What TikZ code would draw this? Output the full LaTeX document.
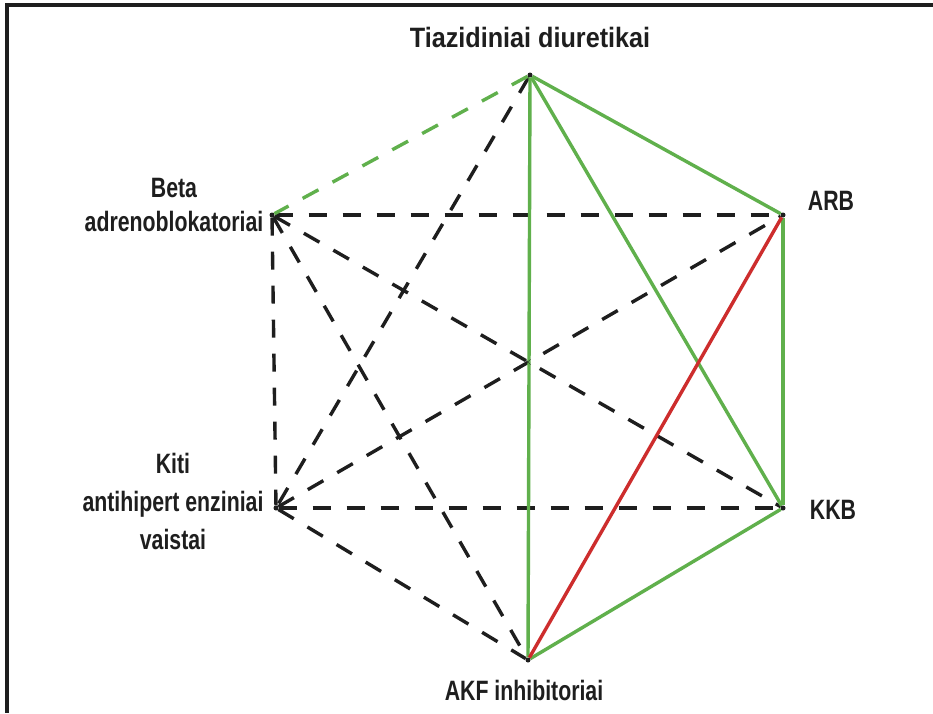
\documentclass[tikz,border=0pt]{standalone}
\usepackage{fontspec}
\setmainfont{Liberation Sans}[FakeStretch=0.76]
\newfontfamily\widefont{Liberation Sans}[FakeStretch=0.9]
\definecolor{lgreen}{RGB}{96,176,76}
\definecolor{lred}{RGB}{205,45,45}
\definecolor{ink}{RGB}{30,30,30}
\tikzset{
  vert/.style={circle,fill=ink,inner sep=0pt,minimum size=5pt},
  lab/.style={font=\fontsize{28}{31}\selectfont\bfseries,text=ink,align=center},
  pair/.style={ink,line width=3.4pt,dash pattern=on 18pt off 16pt},
  good/.style={lgreen,line width=3.4pt},
  bad/.style={lred,line width=3.4pt}
}

\begin{document}
\begin{tikzpicture}[x=1pt,y=-1pt]
\useasboundingbox (0,0) rectangle (933,713);
\fill[white] (0,0) rectangle (933,713);
\draw[ink,line width=3.5pt] (933,5) -- (7,5) -- (7,713);

% vertices
\node[vert] (tia) at (530,75) {};
\node[vert] (beta) at (272,215) {};
\node[vert] (arb) at (783,215) {};
\node[vert] (kiti) at (276,508) {};
\node[vert] (kkb) at (783,508) {};
\node[vert] (akf) at (528,660) {};

% labels
\node[lab] (ltia) at (530,37) {\widefont\bfseries Tiazidiniai diuretikai};
\node[lab] (lbeta) at (174,205) {Beta\\[3pt]adrenoblokatoriai};
\node[lab] (larb) at (831,201) {ARB};
\node[lab] (lkiti) at (173,501) {Kiti\\[7pt]antihipert enziniai\\[7pt]vaistai};
\node[lab] (lkkb) at (833,510) {KKB};
\node[lab] (lakf) at (524,690) {AKF inhibitoriai};

% dashed pairs
\draw[pair] (beta) -- (arb);
\draw[pair] (beta) -- (kkb);
\draw[pair] (beta) -- (kiti);
\draw[pair] (beta) -- (akf);
\draw[pair] (tia) -- (kiti);
\draw[pair] (kiti) -- (arb);
\draw[pair] (kiti) -- (kkb);
\draw[pair] (kiti) -- (akf);
\draw[pair,lgreen] (tia) -- (beta);

% solid pairs
\draw[good] (tia) -- (arb);
\draw[good] (tia) -- (kkb);
\draw[good] (tia) -- (akf);
\draw[good] (arb) -- (kkb);
\draw[good] (kkb) -- (akf);
\draw[bad] (arb) -- (akf);

\node[ink,font=\bfseries\large] (mid) at (528,362) {$\times$};
\end{tikzpicture}
\end{document}
